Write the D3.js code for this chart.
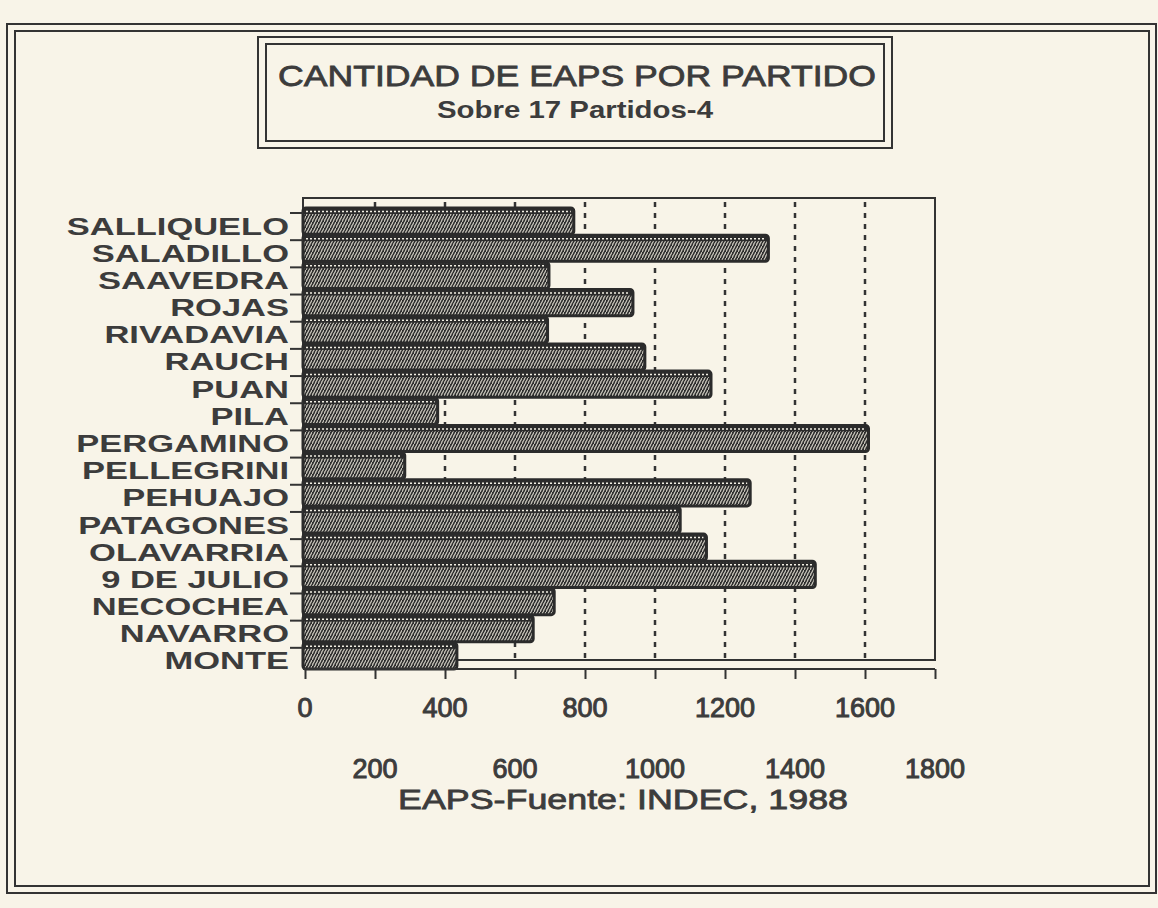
<!DOCTYPE html>
<html>
<head>
<meta charset="utf-8">
<script src="https://cdn.jsdelivr.net/npm/d3@7"></script>
<style>
  body { margin: 0; background: #f8f4e8; }
  svg { display: block; }
  text { font-family: "Liberation Sans", Arial, sans-serif; fill: #3c3c3c; }
</style>
</head>
<body>
<svg width="1158" height="908"></svg>
<script>
// data (top to bottom)
var partidos = ['SALLIQUELO', 'SALADILLO', 'SAAVEDRA', 'ROJAS', 'RIVADAVIA', 'RAUCH', 'PUAN', 'PILA',
  'PERGAMINO', 'PELLEGRINI', 'PEHUAJO', 'PATAGONES', 'OLAVARRIA', '9 DE JULIO', 'NECOCHEA', 'NAVARRO', 'MONTE'];
var eaps = [768, 1324, 697, 937, 693, 971, 1160, 379, 1610, 285, 1272, 1072, 1147, 1458, 712, 652, 434];
var xTicks = [0, 200, 400, 600, 800, 1000, 1200, 1400, 1600, 1800];
var titulo = 'CANTIDAD DE EAPS POR PARTIDO';
var subtitulo = 'Sobre 17 Partidos-4';
var xTitulo = 'EAPS-Fuente: INDEC, 1988';

var ink = '#333';
var svg = d3.select('svg');

var rows = partidos.map(function(p, i) { return {name: p, value: eaps[i]}; });

// hatch pattern for the bars
var defs = svg.append('defs');
var pat = defs.append('pattern')
  .attr('id', 'hatch')
  .attr('patternUnits', 'userSpaceOnUse')
  .attr('width', 6).attr('height', 6);
pat.append('rect').attr('width', 6).attr('height', 6).attr('fill', '#2f2f2f');
pat.append('path').attr('d', 'M0,6 L3,0 M3,6 L6,0')
  .attr('stroke', '#d6d3c8').attr('stroke-width', 1.1);
pat.append('path').attr('d', 'M0,3.5 L6,3.5')
  .attr('stroke', '#a19e95').attr('stroke-width', 0.8).attr('stroke-dasharray', '2,1');

// outer double frame
svg.append('rect').attr('x', 7).attr('y', 24).attr('width', 1149).attr('height', 869)
  .attr('fill', 'none').attr('stroke', ink).attr('stroke-width', 2);
svg.append('rect').attr('x', 15).attr('y', 31).attr('width', 1134).attr('height', 855)
  .attr('fill', 'none').attr('stroke', ink).attr('stroke-width', 2);

// title box
svg.append('rect').attr('x', 258).attr('y', 37).attr('width', 634).attr('height', 111)
  .attr('fill', 'none').attr('stroke', ink).attr('stroke-width', 2);
svg.append('rect').attr('x', 266).attr('y', 44).attr('width', 618).attr('height', 97)
  .attr('fill', 'none').attr('stroke', ink).attr('stroke-width', 2);

svg.append('text')
  .attr('x', 278).attr('y', 86)
  .attr('font-size', 30)
  .attr('stroke', '#3c3c3c').attr('stroke-width', 0.8)
  .attr('textLength', 598).attr('lengthAdjust', 'spacingAndGlyphs')
  .text(titulo);
svg.append('text')
  .attr('x', 437).attr('y', 118)
  .attr('font-size', 23).attr('font-weight', 'bold')
  .attr('textLength', 276).attr('lengthAdjust', 'spacingAndGlyphs')
  .text(subtitulo);

// scales
var plotL = 303, plotR = 935, plotT = 198, plotB = 660, axisY = 669;

var x = d3.scaleLinear().domain([0, 1800]).range([305, 935]);
var y = d3.scaleBand().domain(partidos).range([207, 669]).paddingInner(0);
var step = y.step();

// plot frame
svg.append('rect')
  .attr('x', plotL).attr('y', plotT)
  .attr('width', plotR - plotL).attr('height', plotB - plotT)
  .attr('fill', 'none').attr('stroke', ink).attr('stroke-width', 2);

// dashed grid
svg.append('g')
  .selectAll('line')
  .data(xTicks.filter(function(t) { return t > 0 && t < 1800; }))
  .join('line')
  .attr('x1', function(d) { return x(d); })
  .attr('x2', function(d) { return x(d); })
  .attr('y1', plotT + 4).attr('y2', plotB)
  .attr('stroke', ink).attr('stroke-width', 2.5)
  .attr('stroke-dasharray', '5,6');

// bars
var bars = svg.append('g')
  .selectAll('g')
  .data(rows)
  .join('g');

bars.append('rect')
  .attr('x', x(0) - 2)
  .attr('y', function(d) { return y(d.name) + 1; })
  .attr('width', function(d) { return x(d.value) - x(0) + 2; })
  .attr('height', y.bandwidth() - 1)
  .attr('rx', 3)
  .attr('fill', 'url(#hatch)')
  .attr('stroke', '#2b2b2b').attr('stroke-width', 3);

bars.append('rect')
  .attr('x', x(0) - 1)
  .attr('y', function(d) { return y(d.name) + 2; })
  .attr('width', function(d) { return x(d.value) - x(0); })
  .attr('height', 5)
  .attr('fill', '#2b2b2b');

bars.append('line')
  .attr('x1', x(0) + 1)
  .attr('x2', function(d) { return x(d.value) - 3; })
  .attr('y1', function(d) { return y(d.name) + 4.5; })
  .attr('y2', function(d) { return y(d.name) + 4.5; })
  .attr('stroke', '#f2efe4').attr('stroke-width', 1.5)
  .attr('stroke-dasharray', '2,2');

// y ticks and labels
svg.append('g')
  .selectAll('line')
  .data(partidos)
  .join('line')
  .attr('x1', 290).attr('x2', plotL)
  .attr('y1', function(d) { return y(d) + 6; })
  .attr('y2', function(d) { return y(d) + 6; })
  .attr('stroke', ink).attr('stroke-width', 2);

svg.append('g')
  .selectAll('text')
  .data(partidos)
  .join('text')
  .attr('transform', function(d) {
    return 'translate(289,' + (y(d) + step / 2 + 14) + ') scale(1.5,1.04)';
  })
  .attr('text-anchor', 'end')
  .attr('font-size', 23)
  .attr('font-weight', 'bold')
  .attr('fill', '#444')
  .text(function(d) { return d; });

// x axis
var xAxis = d3.axisBottom(x).tickValues(xTicks).tickSize(10).tickFormat('');
var ax = svg.append('g')
  .attr('transform', 'translate(0,' + axisY + ')')
  .call(xAxis);
ax.select('.domain').attr('stroke', ink).attr('stroke-width', 2).attr('d', 'M' + plotL + ',0H' + plotR);
ax.selectAll('.tick line').attr('stroke', ink).attr('stroke-width', 2);

svg.append('g')
  .selectAll('text')
  .data(xTicks)
  .join('text')
  .attr('x', function(d) { return x(d); })
  .attr('y', function(d, i) { return i % 2 == 0 ? 717 : 778; })
  .attr('text-anchor', 'middle')
  .attr('font-size', 27)
  .attr('stroke', '#3c3c3c').attr('stroke-width', 1)
  .text(function(d) { return d; });

svg.append('text')
  .attr('x', 398).attr('y', 809)
  .attr('font-size', 28)
  .attr('stroke', '#3c3c3c').attr('stroke-width', 0.8)
  .attr('textLength', 450).attr('lengthAdjust', 'spacingAndGlyphs')
  .text(xTitulo);
</script>
</body>
</html>
